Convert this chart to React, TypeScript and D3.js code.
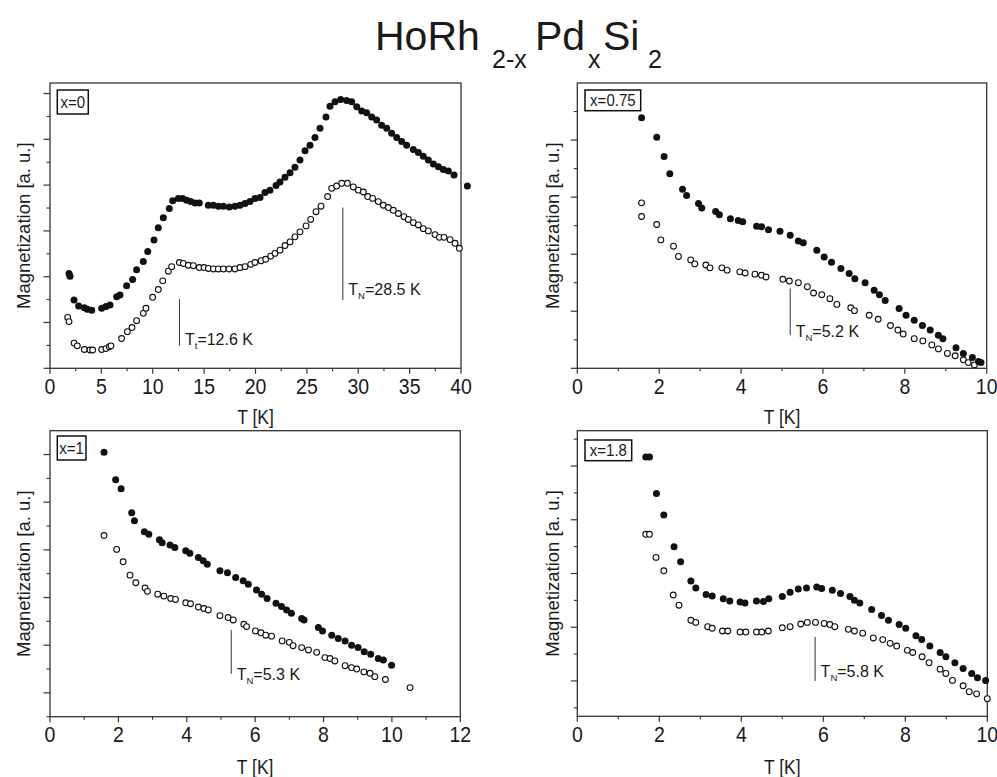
import React from 'react';
import * as d3 from 'd3';

// ---------- Data: [T (K), magnetization (a.u.)] ----------
const x0Filled: [number, number][] = [
  [1.85, 2.07], [1.95, 2.01], [2.34, 1.49], [2.79, 1.36], [3.34, 1.32], [3.63, 1.29], [4.06, 1.27],
  [5.03, 1.31], [5.45, 1.35], [5.84, 1.38], [6.49, 1.56], [6.81, 1.6], [7.46, 1.8], [8.04, 1.94],
  [8.43, 2.15], [9.08, 2.33], [9.51, 2.55], [10.12, 2.8], [10.54, 3.07], [11.03, 3.29], [11.61, 3.49],
  [11.94, 3.66], [12.49, 3.71], [12.91, 3.71], [13.3, 3.67], [13.69, 3.64], [14.11, 3.61], [14.53, 3.61],
  [15.41, 3.56], [15.9, 3.56], [16.38, 3.54], [16.87, 3.54], [17.45, 3.52], [18.0, 3.54], [18.49, 3.56],
  [18.98, 3.6], [19.46, 3.64], [19.95, 3.71], [20.44, 3.73], [20.92, 3.84], [21.41, 3.89], [22.0, 3.99],
  [22.38, 4.07], [22.87, 4.17], [23.36, 4.27], [23.84, 4.39], [24.33, 4.55], [24.82, 4.75], [25.3, 4.87],
  [25.79, 5.04], [26.28, 5.24], [26.86, 5.49], [27.25, 5.72], [27.74, 5.82], [28.29, 5.87], [28.87, 5.85],
  [29.36, 5.82], [29.85, 5.71], [30.33, 5.62], [30.82, 5.58], [31.31, 5.49], [31.79, 5.42], [32.28, 5.31],
  [32.77, 5.24], [33.25, 5.13], [33.74, 5.04], [34.23, 4.95], [34.71, 4.87], [35.36, 4.78], [35.85, 4.71],
  [36.33, 4.63], [36.82, 4.55], [37.31, 4.46], [37.8, 4.4], [38.28, 4.34], [38.77, 4.31], [39.32, 4.22],
  [40.62, 3.98],
];
const x0Open: [number, number][] = [
  [1.72, 1.11], [1.85, 1.02], [2.34, 0.55], [2.66, 0.49], [3.34, 0.41], [3.89, 0.4], [4.15, 0.4],
  [5.03, 0.41], [5.45, 0.43], [5.77, 0.47], [5.94, 0.49], [6.97, 0.65], [7.53, 0.8], [7.98, 0.89],
  [8.43, 1.04], [9.08, 1.2], [9.34, 1.31], [9.99, 1.55], [10.54, 1.72], [10.97, 1.91], [11.52, 2.12],
  [11.84, 2.22], [12.59, 2.31], [12.98, 2.29], [13.46, 2.25], [13.95, 2.24], [14.53, 2.2], [14.99, 2.2],
  [15.41, 2.18], [15.9, 2.17], [16.38, 2.17], [16.87, 2.17], [17.42, 2.17], [18.0, 2.17], [18.49, 2.2],
  [18.98, 2.22], [19.53, 2.27], [19.95, 2.31], [20.54, 2.35], [20.99, 2.38], [21.48, 2.45], [21.9, 2.51],
  [22.38, 2.58], [22.87, 2.68], [23.36, 2.76], [23.84, 2.87], [24.33, 2.98], [24.92, 3.11], [25.37, 3.25],
  [25.89, 3.42], [26.37, 3.54], [27.02, 3.75], [27.41, 3.93], [27.9, 3.98], [28.39, 4.04], [28.94, 4.04],
  [29.52, 3.96], [30.01, 3.89], [30.5, 3.85], [30.92, 3.75], [31.4, 3.71], [31.95, 3.64], [32.44, 3.56],
  [32.93, 3.51], [33.41, 3.45], [33.9, 3.38], [34.45, 3.31], [34.87, 3.25], [35.36, 3.18], [35.85, 3.13],
  [36.33, 3.05], [36.82, 3.0], [37.47, 2.92], [37.89, 2.86], [38.35, 2.86], [38.93, 2.81], [39.42, 2.73],
  [39.84, 2.62],
];

const x075Filled: [number, number][] = [
  [1.57, 4.39], [1.94, 4.05], [2.12, 3.71], [2.26, 3.41], [2.57, 3.14], [2.67, 3.03], [2.96, 2.89],
  [3.04, 2.81], [3.38, 2.75], [3.47, 2.69], [3.74, 2.62], [3.93, 2.59], [4.04, 2.57], [4.38, 2.49],
  [4.5, 2.48], [4.67, 2.43], [4.95, 2.4], [5.2, 2.33], [5.4, 2.23], [5.52, 2.2], [5.85, 2.07],
  [6.03, 1.95], [6.21, 1.86], [6.44, 1.75], [6.64, 1.66], [6.78, 1.57], [7.03, 1.5], [7.25, 1.37],
  [7.38, 1.29], [7.52, 1.19], [7.86, 1.05], [8.03, 0.93], [8.23, 0.84], [8.43, 0.75], [8.62, 0.67],
  [8.82, 0.58], [8.93, 0.52], [9.25, 0.36], [9.43, 0.26], [9.65, 0.19], [9.8, 0.12], [9.86, 0.1],
];
const x075Open: [number, number][] = [
  [1.57, 2.9], [1.57, 2.66], [1.94, 2.52], [2.04, 2.25], [2.35, 2.14], [2.47, 1.96], [2.77, 1.9],
  [2.87, 1.83], [3.14, 1.81], [3.24, 1.76], [3.53, 1.76], [3.66, 1.72], [3.97, 1.69], [4.1, 1.67],
  [4.34, 1.65], [4.5, 1.63], [4.61, 1.6], [5.02, 1.56], [5.18, 1.53], [5.4, 1.5], [5.62, 1.43],
  [5.77, 1.32], [5.97, 1.29], [6.17, 1.22], [6.34, 1.12], [6.68, 1.06], [6.77, 1.01], [7.13, 0.93],
  [7.35, 0.86], [7.65, 0.75], [7.83, 0.67], [7.96, 0.6], [8.23, 0.52], [8.44, 0.48], [8.66, 0.41],
  [8.82, 0.34], [9.04, 0.26], [9.23, 0.22], [9.43, 0.15], [9.55, 0.1], [9.7, 0.06],
];

const x1Filled: [number, number][] = [
  [1.58, 5.05], [1.92, 4.47], [2.08, 4.28], [2.39, 3.78], [2.47, 3.61], [2.76, 3.38], [2.89, 3.33],
  [3.2, 3.21], [3.28, 3.15], [3.51, 3.1], [3.65, 3.05], [3.97, 2.98], [4.09, 2.93], [4.34, 2.84],
  [4.48, 2.77], [4.6, 2.7], [4.97, 2.56], [5.19, 2.52], [5.43, 2.42], [5.65, 2.35], [5.8, 2.28],
  [6.04, 2.16], [6.19, 2.07], [6.35, 1.98], [6.61, 1.88], [6.77, 1.81], [6.92, 1.74], [7.06, 1.67],
  [7.36, 1.56], [7.43, 1.53], [7.85, 1.37], [7.97, 1.3], [8.24, 1.21], [8.43, 1.14], [8.63, 1.09],
  [8.82, 1.0], [9.01, 0.95], [9.19, 0.86], [9.38, 0.81], [9.6, 0.72], [9.75, 0.69], [9.99, 0.58],
];
const x1Open: [number, number][] = [
  [1.58, 3.3], [1.95, 3.01], [2.14, 2.75], [2.34, 2.47], [2.51, 2.31], [2.78, 2.2], [2.85, 2.13],
  [3.15, 2.07], [3.33, 2.03], [3.53, 1.98], [3.67, 1.96], [3.97, 1.89], [4.11, 1.87], [4.34, 1.8],
  [4.5, 1.77], [4.63, 1.74], [4.97, 1.62], [5.21, 1.58], [5.36, 1.53], [5.67, 1.44], [5.75, 1.39],
  [6.01, 1.3], [6.17, 1.26], [6.31, 1.21], [6.48, 1.19], [6.79, 1.09], [7.0, 1.06], [7.11, 0.99],
  [7.36, 0.95], [7.56, 0.9], [7.8, 0.85], [8.04, 0.74], [8.19, 0.72], [8.33, 0.67], [8.63, 0.57],
  [8.82, 0.53], [8.97, 0.5], [9.18, 0.44], [9.36, 0.41], [9.5, 0.34], [9.81, 0.28], [10.53, 0.11],
];

const x18Filled: [number, number][] = [
  [1.67, 5.17], [1.76, 5.17], [1.93, 4.49], [2.11, 4.09], [2.36, 3.5], [2.52, 3.22], [2.77, 2.86],
  [2.89, 2.73], [3.14, 2.61], [3.29, 2.58], [3.56, 2.53], [3.72, 2.49], [3.97, 2.47], [4.09, 2.45],
  [4.37, 2.49], [4.54, 2.48], [4.67, 2.53], [5.0, 2.57], [5.19, 2.65], [5.39, 2.71], [5.59, 2.73],
  [5.84, 2.75], [5.96, 2.72], [6.22, 2.69], [6.42, 2.63], [6.65, 2.57], [6.76, 2.5], [6.89, 2.45],
  [7.18, 2.33], [7.42, 2.22], [7.59, 2.13], [7.85, 2.05], [8.01, 1.98], [8.26, 1.84], [8.4, 1.77],
  [8.6, 1.65], [8.85, 1.53], [8.99, 1.45], [9.21, 1.34], [9.41, 1.23], [9.62, 1.14], [9.76, 1.06],
  [9.96, 1.01],
];
const x18Open: [number, number][] = [
  [1.67, 3.73], [1.76, 3.73], [1.92, 3.3], [2.11, 3.05], [2.34, 2.6], [2.48, 2.41], [2.77, 2.13],
  [2.89, 2.09], [3.18, 2.01], [3.29, 1.98], [3.54, 1.93], [3.67, 1.93], [3.97, 1.91], [4.11, 1.91],
  [4.37, 1.91], [4.5, 1.91], [4.66, 1.93], [5.0, 1.99], [5.19, 2.01], [5.45, 2.06], [5.61, 2.09],
  [5.81, 2.09], [6.02, 2.07], [6.16, 2.05], [6.28, 2.01], [6.61, 1.96], [6.76, 1.93], [6.96, 1.89],
  [7.22, 1.8], [7.45, 1.77], [7.63, 1.7], [7.79, 1.65], [8.05, 1.57], [8.18, 1.53], [8.41, 1.45],
  [8.58, 1.34], [8.85, 1.22], [8.99, 1.14], [9.15, 1.01], [9.41, 0.91], [9.56, 0.8], [9.74, 0.76],
  [10.0, 0.67],
];

// Tick labels
const xTicks40 = [0, 5, 10, 15, 20, 25, 30, 35, 40];
const xTicks10 = [0, 2, 4, 6, 8, 10];
const xTicks12 = [0, 2, 4, 6, 8, 10, 12];
const yMajor0 = [0, 1, 2, 3, 4, 5, 6];
const yMajor075 = [0, 1, 2, 3, 4];
const yMajor1 = [0, 1, 2, 3, 4, 5];
const yMajor18 = [1, 2, 3, 4, 5];

// Transition annotations
const x0Marks = [
  { T: 12.6, sub: 't', text: '=12.6 K', y1: 0.49, y2: 1.51, ly: 0.51 },
  { T: 28.5, sub: 'N', text: '=28.5 K', y1: 1.49, y2: 3.51, ly: 1.6 },
];
const x075Marks = [{ T: 5.2, sub: 'N', text: '=5.2 K', y1: 0.58, y2: 1.4, ly: 0.55 }];
const x1Marks = [{ T: 5.3, sub: 'N', text: '=5.3 K', y1: 0.4, y2: 1.32, ly: 0.26 }];
const x18Marks = [{ T: 5.8, sub: 'N', text: '=5.8 K', y1: 1.0, y2: 1.82, ly: 1.07 }];

const FONT = "'Liberation Sans', Arial, Helvetica, sans-serif";
const INK = '#1a1a1a';

type Cfg = {
  label: string;
  filled: [number, number][];
  open: [number, number][];
  xTicks: number[];
  yMajor: number[];
  xDomain: [number, number];
  yDomain: [number, number];
  l: number; r: number; t: number; b: number;
  marks: { T: number; sub: string; text: string; y1: number; y2: number; ly: number }[];
  box: { x: number; y: number; w: number; h: number; ty: number };
  magX: number;
  tkY: number;
};

const panels: Cfg[] = [
  {
    label: 'x=0', filled: x0Filled, open: x0Open, xTicks: xTicks40, yMajor: yMajor0,
    xDomain: [0, 40], yDomain: [0, 6.23], l: 50, r: 461, t: 83, b: 368.3, marks: x0Marks,
    box: { x: 57.3, y: 90, w: 31, h: 24, ty: 107.5 }, magX: 30, tkY: 424,
  },
  {
    label: 'x=0.75', filled: x075Filled, open: x075Open, xTicks: xTicks10, yMajor: yMajor075,
    xDomain: [0, 10], yDomain: [0, 5], l: 577.3, r: 986.7, t: 83, b: 368.3, marks: x075Marks,
    box: { x: 585, y: 90, w: 55.7, h: 20.7, ty: 105.5 }, magX: 559, tkY: 424,
  },
  {
    label: 'x=1', filled: x1Filled, open: x1Open, xTicks: xTicks12, yMajor: yMajor1,
    xDomain: [0, 12], yDomain: [-0.5, 5.5], l: 50, r: 460.3, t: 430.7, b: 716.7, marks: x1Marks,
    box: { x: 57.3, y: 436, w: 28.7, h: 24, ty: 453.5 }, magX: 30, tkY: 774,
  },
  {
    label: 'x=1.8', filled: x18Filled, open: x18Open, xTicks: xTicks10, yMajor: yMajor18,
    xDomain: [0, 10], yDomain: [0.342, 5.658], l: 577.3, r: 987.3, t: 430.7, b: 716.3, marks: x18Marks,
    box: { x: 585, y: 440, w: 46.7, h: 20.7, ty: 455.5 }, magX: 559, tkY: 774,
  },
];

function SText({ x, y, size, sy, anchor, children }: any) {
  return (
    <text
      transform={`translate(${x},${y}) scale(1,${sy})`}
      textAnchor={anchor || 'start'}
      fontSize={size}
      fill={INK}
      fontFamily={FONT}
    >
      {children}
    </text>
  );
}

function Panel({ c }: { c: Cfg }) {
  const x = d3.scaleLinear().domain(c.xDomain).range([c.l, c.r]);
  const y = d3.scaleLinear().domain(c.yDomain).range([c.b, c.t]);
  const xMinor = c.xTicks.slice(1).map((v, i) => (v + c.xTicks[i]) / 2);
  const yMinor = d3
    .range(Math.ceil(c.yDomain[0] * 2) / 2, c.yDomain[1], 0.5)
    .filter((v) => Math.abs(v - Math.round(v)) > 0.1);
  const midY = (c.t + c.b) / 2;
  return (
    <g>
      <rect x={c.l} y={c.t} width={c.r - c.l} height={c.b - c.t} fill="none" stroke="#333" strokeWidth={1.3} />
      {c.xTicks.map((v) => (
        <g key={'xt' + v}>
          <line x1={x(v)} x2={x(v)} y1={c.b} y2={c.b + 5.5} stroke="#333" strokeWidth={1.2} />
          <SText x={x(v)} y={c.b + 25.5} size={19.5} sy={1.12} anchor="middle">
            {v}
          </SText>
        </g>
      ))}
      {xMinor.map((v) => (
        <line key={'xm' + v} x1={x(v)} x2={x(v)} y1={c.b} y2={c.b + 3} stroke="#333" strokeWidth={1.1} />
      ))}
      {c.yMajor.map((v) => (
        <line key={'yt' + v} x1={c.l - 6.5} x2={c.l} y1={y(v)} y2={y(v)} stroke="#333" strokeWidth={1.2} />
      ))}
      {yMinor.map((v) => (
        <line key={'ym' + v} x1={c.l - 3.5} x2={c.l} y1={y(v)} y2={y(v)} stroke="#333" strokeWidth={1.1} />
      ))}
      <SText x={(c.l + c.r) / 2} y={c.tkY} size={17.5} sy={1.15} anchor="middle">
        T [K]
      </SText>
      <text
        transform={`translate(${c.magX},${midY}) rotate(-90)`}
        textAnchor="middle"
        fontSize={18.5}
        fill={INK}
        fontFamily={FONT}
      >
        Magnetization [a. u.]
      </text>
      {c.open.map((d, i) => (
        <circle key={'o' + i} cx={x(d[0])} cy={y(d[1])} r={2.9} fill="#fff" stroke="#111" strokeWidth={1.1} />
      ))}
      {c.filled.map((d, i) => (
        <circle key={'f' + i} cx={x(d[0])} cy={y(d[1])} r={3.5} fill="#111" />
      ))}
      {c.marks.map((m, i) => (
        <g key={'m' + i}>
          <line x1={x(m.T)} x2={x(m.T)} y1={y(m.y1)} y2={y(m.y2)} stroke="#333" strokeWidth={1} />
          <text x={x(m.T) + 5.5} y={y(m.ly)} fontSize={16} fill={INK} fontFamily={FONT}>
            T
            <tspan fontSize={9.5} dy={4}>{m.sub}</tspan>
            <tspan dy={-4}>{m.text}</tspan>
          </text>
        </g>
      ))}
      <rect x={c.box.x} y={c.box.y} width={c.box.w} height={c.box.h} fill="#fff" stroke="#111" strokeWidth={1.5} />
      <SText x={c.box.x + c.box.w / 2} y={c.box.ty} size={15} sy={1.08} anchor="middle">
        {c.label}
      </SText>
    </g>
  );
}

export default function App() {
  return (
    <svg
      width={997}
      height={777}
      viewBox="0 0 997 777"
      style={{ position: 'absolute', left: 0, top: 0, display: 'block', background: '#fff' }}
    >
      <rect x={0} y={0} width={997} height={777} fill="#fff" />
      <g fontFamily={FONT} fill="#1a1a1a">
        <text x={375} y={50} fontSize={41}>HoRh</text>
        <text x={492} y={68} fontSize={25}>2-x</text>
        <text x={535} y={50} fontSize={41}>Pd</text>
        <text x={588} y={68} fontSize={25}>x</text>
        <text x={603} y={50} fontSize={41}>Si</text>
        <text x={648} y={68} fontSize={25}>2</text>
      </g>
      {panels.map((c) => (
        <Panel key={c.label} c={c} />
      ))}
    </svg>
  );
}
